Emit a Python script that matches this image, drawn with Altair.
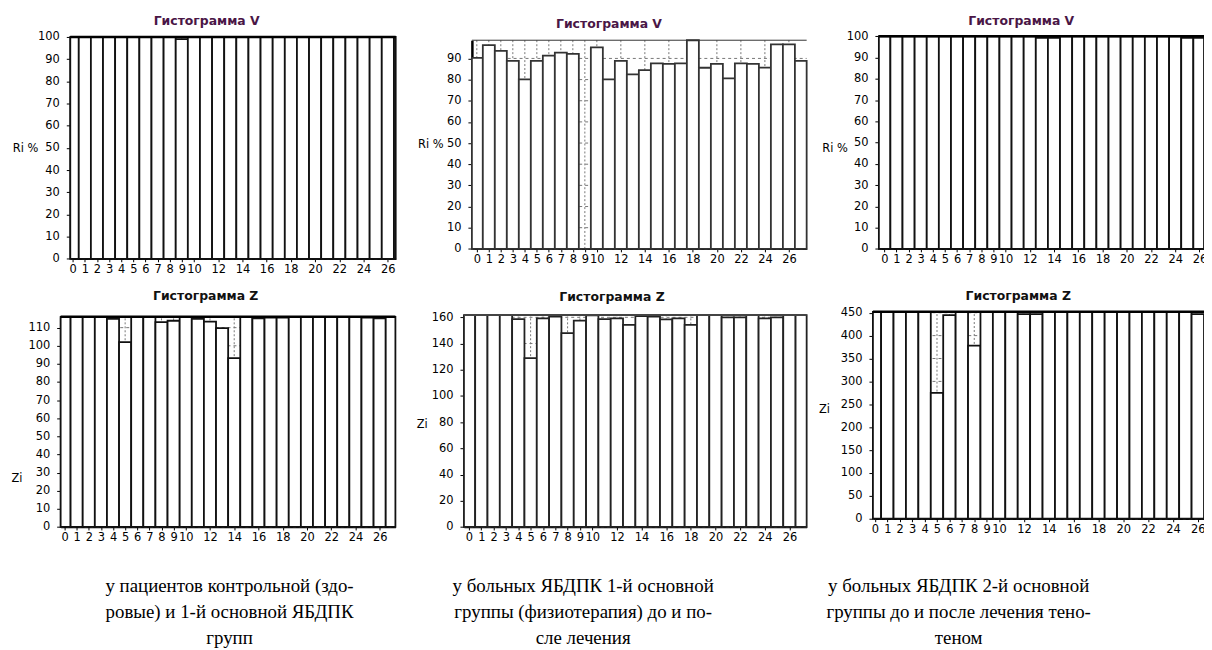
import altair as alt
import pandas as pd

# page / canvas
M = 8            # page margin of the html page
W, H = 1204, 642 # whole canvas (chart coordinates = image coordinates - M)

# ---------------- data ----------------
bins = list(range(28))
x_ticks = [0, 1, 2, 3, 4, 5, 6, 7, 8, 9, 10, 12, 14, 16, 18, 20, 22, 24, 26]

# Histogram V (Ri %)
v_control = [100, 100, 100, 100, 100, 100, 100, 100, 100, 99, 100, 100, 100, 100,
             100, 100, 100, 100, 100, 100, 100, 100, 100, 100, 100, 100, 100, 100]
v_group1 = [90.3, 96.3, 93.6, 88.8, 80.1, 88.8, 91.3, 92.7, 92.2, 0, 95.2, 80.1, 88.8, 82.5,
            84.5, 87.7, 87.4, 87.7, 98.6, 85.6, 87.4, 80.6, 87.7, 87.4, 85.7, 96.6, 96.6, 88.8]
v_group2 = [100, 100, 100, 100, 100, 100, 100, 100, 100, 100, 100, 100, 100, 99.2,
            99.2, 100, 100, 100, 100, 100, 100, 100, 100, 100, 100, 99.2, 99.2, 100]

# Histogram Z (Zi)
z_control = [116, 116, 116, 116, 114.8, 102, 116, 116, 113, 113.8, 116, 114.8, 113.3, 109.7,
             93.2, 116, 115.2, 115.5, 115.5, 116, 116, 115.8, 115.8, 115.8, 115.8, 115.5, 115.2, 116]
z_group1 = [161.7, 161.7, 161.7, 161.7, 158.7, 128.9, 159.2, 160.5, 147.9, 157.4, 161.5, 158.7, 159.2, 154.2,
            161, 160.5, 158.5, 159.2, 154.2, 161.7, 161.7, 160, 160, 161.7, 159.2, 160, 161.7, 161.7]
z_group2 = [452, 452, 452, 452, 452, 275, 445, 452, 378, 452, 452, 452, 447, 447,
            452, 452, 452, 452, 452, 452, 452, 452, 452, 452, 452, 452, 447, 452]

y_ticks_v100 = [0, 10, 20, 30, 40, 50, 60, 70, 80, 90, 100]
y_ticks_v90 = [0, 10, 20, 30, 40, 50, 60, 70, 80, 90]
y_ticks_z1 = [0, 10, 20, 30, 40, 50, 60, 70, 80, 90, 100, 110]
y_ticks_z2 = [0, 20, 40, 60, 80, 100, 120, 140, 160]
y_ticks_z3 = [0, 50, 100, 150, 200, 250, 300, 350, 400, 450]

title_v = "Гистограмма V"
title_z = "Гистограмма Z"
ytitle_v = "Ri %"
ytitle_z = "Zi"

captions = [
    ["у пациентов контрольной (здо-", "ровые) и 1-й основной ЯБДПК", "групп"],
    ["у больных ЯБДПК 1-й основной", "группы (физиотерапия) до и по-", "сле лечения"],
    ["у больных ЯБДПК 2-й основной", "группы до и после лечения тено-", "теном"],
]

FONT = "DejaVu Sans"
LFS = 11.5
dummy = pd.DataFrame({"k": [0]})


def panel(values, ymax, yticks, ytitle, xdom, xrng, yrng, ytitle_pos,
          title, title_pos, title_color, top_w, top_c, bar_c):
    xr = [xrng[0] - M, xrng[1] - M]
    yr = [yrng[0] - M, yrng[1] - M]
    xs = alt.Scale(domain=xdom, range=xr, nice=False, zero=False)
    ys = alt.Scale(domain=[0, ymax], range=yr, nice=False, zero=False)

    xaxis = alt.Axis(orient="bottom", offset=yr[0] - H, values=x_ticks, title=None,
                     grid=False, labelFont=FONT, labelFontSize=LFS, labelColor="#000",
                     labelOverlap=False, labelFlush=False, labelPadding=2,
                     tickSize=3, tickColor="#000", domainColor="#000", domainWidth=1.5)
    yaxis = alt.Axis(orient="left", offset=-xr[0], values=yticks, title=ytitle,
                     grid=False, labelFont=FONT, labelFontSize=LFS, labelColor="#000",
                     labelPadding=7, tickSize=4, tickColor="#000",
                     domainColor="#000", domainWidth=2.5,
                     titleFont=FONT, titleFontSize=LFS, titleFontWeight="normal",
                     titleColor="#000", titleAngle=0, titleAlign="right",
                     titleBaseline="middle",
                     titleX=ytitle_pos[0] - xrng[0], titleY=ytitle_pos[1] - M)

    df = pd.DataFrame({"i": bins, "v": values})
    bars = (
        alt.Chart(df)
        .transform_calculate(
            x0=f"max(datum.i - 0.5, {xdom[0]})",
            x1=f"min(datum.i + 0.5, {xdom[1]})",
            z="0",
        )
        .transform_filter("datum.x1 > datum.x0")
        .mark_rect(fill="white", stroke=bar_c, strokeWidth=1.8)
        .encode(
            x=alt.X("x0:Q", scale=xs, axis=xaxis),
            x2="x1:Q",
            y=alt.Y("v:Q", scale=ys, axis=yaxis),
            y2="z:Q",
        )
    )

    vgrid_df = pd.DataFrame({"t": x_ticks})
    vgrid = (
        alt.Chart(vgrid_df)
        .transform_calculate(lo="0", hi=str(ymax))
        .mark_rule(stroke="#777", strokeWidth=1, strokeDash=[2, 2])
        .encode(x=alt.X("t:Q", scale=xs, axis=xaxis),
                y=alt.Y("lo:Q", scale=ys, axis=yaxis), y2="hi:Q")
    )
    hgrid_df = pd.DataFrame({"t": yticks})
    hgrid = (
        alt.Chart(hgrid_df)
        .transform_calculate(lo=str(xdom[0]), hi=str(xdom[1]))
        .mark_rule(stroke="#777", strokeWidth=1, strokeDash=[3, 3])
        .encode(y=alt.Y("t:Q", scale=ys, axis=yaxis),
                x=alt.X("lo:Q", scale=xs, axis=xaxis), x2="hi:Q")
    )
    top = (
        alt.Chart(dummy)
        .transform_calculate(lo=str(xdom[0]), hi=str(xdom[1]), t=str(ymax))
        .mark_rule(stroke=top_c, strokeWidth=top_w)
        .encode(y=alt.Y("t:Q", scale=ys, axis=yaxis),
                x=alt.X("lo:Q", scale=xs, axis=xaxis), x2="hi:Q")
    )
    ttl = (
        alt.Chart(dummy)
        .mark_text(text=title, font=FONT, fontWeight="bold", fontSize=12.5,
                   color=title_color, align="center", baseline="middle")
        .encode(x=alt.value(title_pos[0] - M), y=alt.value(title_pos[1] - M))
    )
    return alt.layer(hgrid, vgrid, bars, top), ttl


VCOL = "#4a1646"
ZCOL = "#111111"

specs = [
    (v_control, 100, y_ticks_v100, ytitle_v, [-0.2, 26.65], [70.7, 398.3], [258.3, 35],
     (38, 147), title_v, (208, 19), VCOL, 2.5, "#000", "#111"),
    (v_group1, 98.6, y_ticks_v90, ytitle_v, [-0.41, 27.48], [475, 812], [248.3, 38.3],
     (446, 143), title_v, (613, 22), VCOL, 1, "#333", "#333"),
    (v_group2, 100, y_ticks_v100, ytitle_v, [-0.45, 26.38], [884.7, 1212], [248.3, 34.3],
     (853, 147), title_v, (1028, 19), VCOL, 2.5, "#000", "#111"),
    (z_control, 116, y_ticks_z1, ytitle_z, [-0.32, 27.3], [61, 398], [528.3, 316.7],
     (22, 480), title_z, (207, 296), ZCOL, 2.5, "#000", "#111"),
    (z_group1, 161.7, y_ticks_z2, ytitle_z, [-0.41, 27.4], [467, 812], [528.3, 315],
     (430, 425), title_z, (616, 297), ZCOL, 2, "#444", "#222"),
    (z_group2, 452, y_ticks_z3, ytitle_z, [-0.16, 26.5], [878.7, 1212], [520, 311.7],
     (835, 410), title_z, (1025, 296), ZCOL, 2.5, "#000", "#111"),
]

panels, titles = [], []
for s in specs:
    p, t = panel(*s)
    panels.append(p)
    titles.append(t)

cap_layers = []
for lines, cx in zip(captions, [231, 587, 965]):
    cap_layers.append(
        alt.Chart(dummy)
        .mark_text(text=lines, font="Liberation Serif", fontSize=19, lineHeight=26,
                   color="#000", align="center", baseline="top")
        .encode(x=alt.value(cx - M), y=alt.value(579 - M))
    )

chart = (
    alt.layer(*panels, *titles, *cap_layers)
    .resolve_scale(x="independent", y="independent")
    .properties(width=W, height=H, padding=0,
                autosize=alt.AutoSizeParams(type="none"), background="white")
    .configure_view(stroke=None)
)

chart.save("out.html", embed_options={"renderer": "svg", "actions": False})
